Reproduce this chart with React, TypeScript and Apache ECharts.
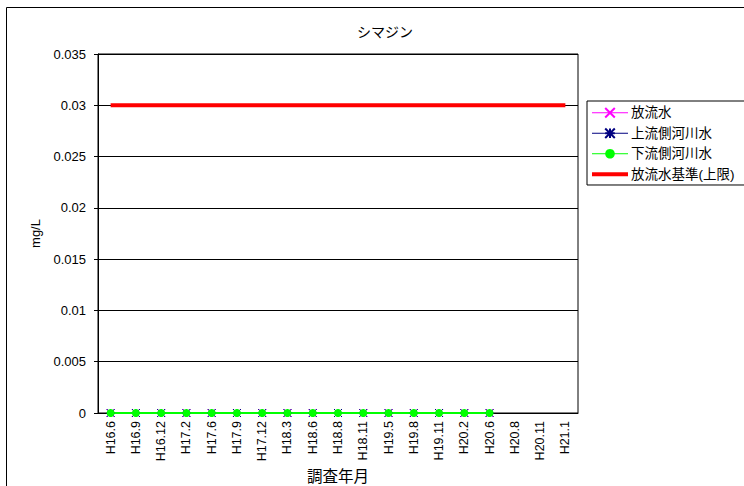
import React, { useEffect, useRef } from "react";
import * as echarts from "echarts";

const categories = ["H16.6","H16.9","H16.12","H17.2","H17.6","H17.9","H17.12","H18.3","H18.6","H18.8","H18.11","H19.5","H19.8","H19.11","H20.2","H20.6","H20.8","H20.11","H21.1"];
const effluent = [0,0,0,0,0,0,0,0,0,0,0,0,0,0,0,0,null,null,null];
const upstream = [0,0,0,0,0,0,0,0,0,0,0,0,0,0,0,0,null,null,null];
const downstream = [0,0,0,0,0,0,0,0,0,0,0,0,0,0,0,0,null,null,null];
const standard = [0.03,0.03,0.03,0.03,0.03,0.03,0.03,0.03,0.03,0.03,0.03,0.03,0.03,0.03,0.03,0.03,0.03,0.03,0.03];
const yTicks = [0, 0.005, 0.01, 0.015, 0.02, 0.025, 0.03, 0.035];

const FONT = "'Liberation Sans', 'Noto Sans CJK JP', sans-serif";
const CROSS = "path://M0,0L10,10M10,0L0,10";
const STAR = "path://M0,0L10,10M10,0L0,10M5,0L5,10M0,5L10,5";

export default function App() {
  const ref = useRef<HTMLDivElement>(null);
  useEffect(() => {
    const chart = echarts.init(ref.current!, null, { renderer: "svg" });
    chart.setOption({
      animation: false,
      backgroundColor: "#fff",
      textStyle: { fontFamily: FONT },
      title: {
        text: "シマジン",
        left: 380,
        top: 20,
        textAlign: "center",
        textStyle: { fontSize: 14, fontWeight: "normal", color: "#000", fontFamily: FONT },
      },
      graphic: [
        { type: "rect", shape: { x: 6.5, y: 7.5, width: 760, height: 500 }, style: { fill: "none", stroke: "#000", lineWidth: 1 }, silent: true, z: -1 },
      ],
      legend: {
        orient: "vertical",
        left: 587,
        top: 101,
        padding: [5, 40, 4, 3],
        itemGap: 7,
        itemWidth: 36,
        itemHeight: 12,
        borderColor: "#000",
        borderWidth: 1,
        backgroundColor: "#fff",
        textStyle: { fontSize: 13.5, color: "#000", fontFamily: FONT, padding: [0, 0, 0, -2] },
        data: [
          { name: "放流水", lineStyle: { width: 1 } },
          { name: "上流側河川水", lineStyle: { width: 1 } },
          { name: "下流側河川水", lineStyle: { width: 1 } },
          { name: "放流水基準(上限)", itemStyle: { opacity: 0 }, lineStyle: { width: 4 } },
        ],
      },
      grid: { left: 98, top: 54, width: 480, height: 359, show: true, borderColor: "#000", borderWidth: 1, backgroundColor: "transparent", outerBoundsMode: "none", containLabel: false },
      xAxis: {
        type: "category",
        data: categories,
        boundaryGap: true,
        name: "調査年月",
        nameLocation: "middle",
        nameGap: 63,
        nameMoveOverlap: false,
        nameTextStyle: { fontSize: 15.5, color: "#000", fontFamily: FONT, verticalAlign: "middle" },
        axisLine: { lineStyle: { color: "#000", width: 1 } },
        axisTick: { inside: true, length: 4, lineStyle: { color: "#000" } },
        axisLabel: { rotate: 90, fontSize: 12.5, color: "#000", margin: 8, interval: 0, fontFamily: FONT },
      },
      yAxis: {
        type: "value",
        min: 0,
        max: 0.035,
        interval: 0.005,
        name: "mg/L",
        nameLocation: "middle",
        nameGap: 56,
        nameRotate: 90,
        nameTextStyle: { fontSize: 13, color: "#000", fontFamily: FONT },
        axisLine: { show: true, lineStyle: { color: "#000" } },
        axisTick: { show: true, length: 4, lineStyle: { color: "#000" } },
        axisLabel: { fontSize: 13, color: "#000", margin: 12, fontFamily: FONT, formatter: (v: number) => (yTicks.includes(v) ? String(v) : "") },
        splitLine: { show: true, lineStyle: { color: "#000", width: 1 } },
      },
      series: [
        {
          name: "放流水", type: "line", data: effluent, symbol: CROSS, symbolSize: 8,
          itemStyle: { color: "#ff00ff", borderColor: "#ff00ff", borderWidth: 1 },
          lineStyle: { color: "#ff00ff", width: 1 },
        },
        {
          name: "上流側河川水", type: "line", data: upstream, symbol: STAR, symbolSize: 8,
          itemStyle: { color: "#000080", borderColor: "#000080", borderWidth: 1 },
          lineStyle: { color: "#000080", width: 1 },
        },
        {
          name: "下流側河川水", type: "line", data: downstream, symbol: "circle", symbolSize: 8,
          itemStyle: { color: "#00ff00" },
          lineStyle: { color: "#00ff00", width: 2 },
        },
        {
          name: "放流水基準(上限)", type: "line", data: standard, symbol: "none", showSymbol: false,
          itemStyle: { color: "#ff0000" },
          lineStyle: { color: "#ff0000", width: 4 },
        },
      ],
    });
    return () => chart.dispose();
  }, []);
  return <div ref={ref} style={{ width: 744, height: 486, position: "absolute", left: 0, top: 0 }} />;
}
